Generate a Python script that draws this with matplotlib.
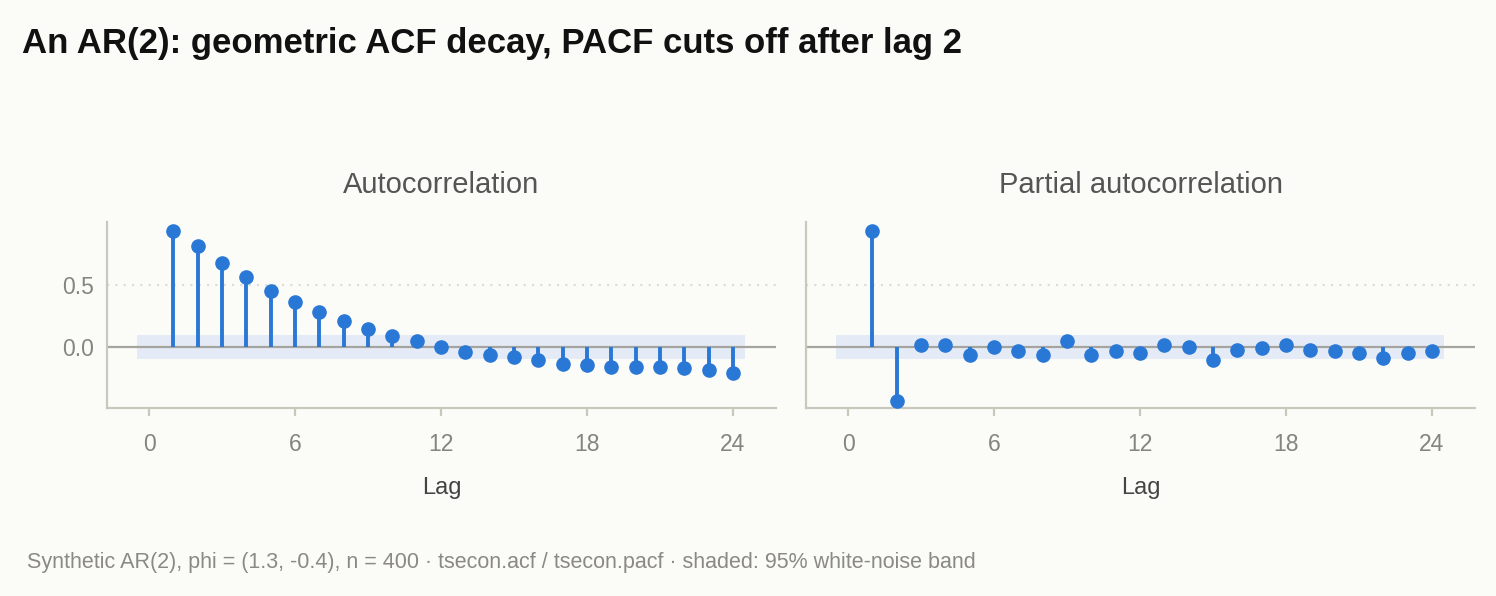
"""
ACF / PACF stem plots for a synthetic AR(2) series
"""
import numpy as np
import matplotlib.pyplot as plt

lags = list(range(1, 25))
acf_values = [0.935, 0.815, 0.675, 0.562, 0.449, 0.360, 0.280, 0.207, 0.143, 0.094,
              0.048, 0.005, -0.035, -0.059, -0.083, -0.107, -0.132, -0.145, -0.156,
              -0.156, -0.156, -0.164, -0.180, -0.207]
pacf_values = [0.935, -0.433, 0.015, 0.015, -0.059, 0.005, -0.027, -0.059, 0.046, -0.067,
               -0.027, -0.043, 0.021, 0.005, -0.107, -0.019, -0.003, 0.021, -0.019,
               -0.027, -0.043, -0.091, -0.043, -0.027]
panel_titles = ['Autocorrelation', 'Partial autocorrelation']
x_ticks = [0, 6, 12, 18, 24]
y_ticks = [0.0, 0.5]
n_obs = 400
band = 1.96 / np.sqrt(n_obs)

BG = '#fbfbf8'
BLUE = '#2a78d6'
SPINE = '#c9c8bd'
TICK_TEXT = '#85847f'

plt.rcParams['font.family'] = ['Liberation Sans', 'DejaVu Sans']

fig = plt.figure(figsize=(14.96, 5.96), dpi=100, facecolor=BG)
axes = [fig.add_axes([0.0715, 0.3154, 0.4472, 0.3121]),
        fig.add_axes([0.5388, 0.3154, 0.4472, 0.3121])]

for axis, values, title in zip(axes, [acf_values, pacf_values], panel_titles):
    axis.set_facecolor(BG)
    axis.fill_between([-0.5, 24.5], -band, band, color='#e4ebf6', lw=0, zorder=1)
    axis.axhline(0.5, color='#dcdbd4', lw=1.5, ls=(0, (1, 3)), zorder=1)
    axis.axhline(0, color='#a6a49f', lw=1.6, zorder=2)
    axis.vlines(lags, 0, values, color=BLUE, lw=2.8, zorder=3)
    axis.plot(lags, values, 'o', color=BLUE, ms=9.5, zorder=4)

    axis.set_xlim(-1.73, 25.77)
    axis.set_ylim(-0.49, 1.008)
    axis.set_xticks(x_ticks)
    axis.set_yticks(y_ticks)
    axis.set_yticklabels([f'{v:.1f}' for v in y_ticks] if axis is axes[0] else [])
    for side in ['top', 'right']:
        axis.spines[side].set_visible(False)
    for side in ['left', 'bottom']:
        axis.spines[side].set_color(SPINE)
        axis.spines[side].set_linewidth(1.6)
    axis.tick_params(axis='x', length=6, width=1.6, color=SPINE, pad=12,
                     labelsize=16.5, labelcolor=TICK_TEXT)
    axis.tick_params(axis='y', length=0, pad=9, labelsize=16.5, labelcolor=TICK_TEXT)
    axis.set_title(title, fontsize=21, color='#555555', pad=21)
    axis.set_xlabel('Lag', fontsize=17, color='#444444', labelpad=15)

fig.text(0.0147, 0.911, 'An AR(2): geometric ACF decay, PACF cuts off after lag 2',
         fontsize=25, fontweight='bold', color='#111111', va='baseline')
fig.text(0.018, 0.047,
         'Synthetic AR(2), phi = (1.3, -0.4), n = 400 \u00b7 tsecon.acf / tsecon.pacf '
         '\u00b7 shaded: 95% white-noise band',
         fontsize=15.5, color='#8a8985', va='baseline')

fig.savefig('out.png', dpi=100, facecolor=BG)
plt.close(fig)
